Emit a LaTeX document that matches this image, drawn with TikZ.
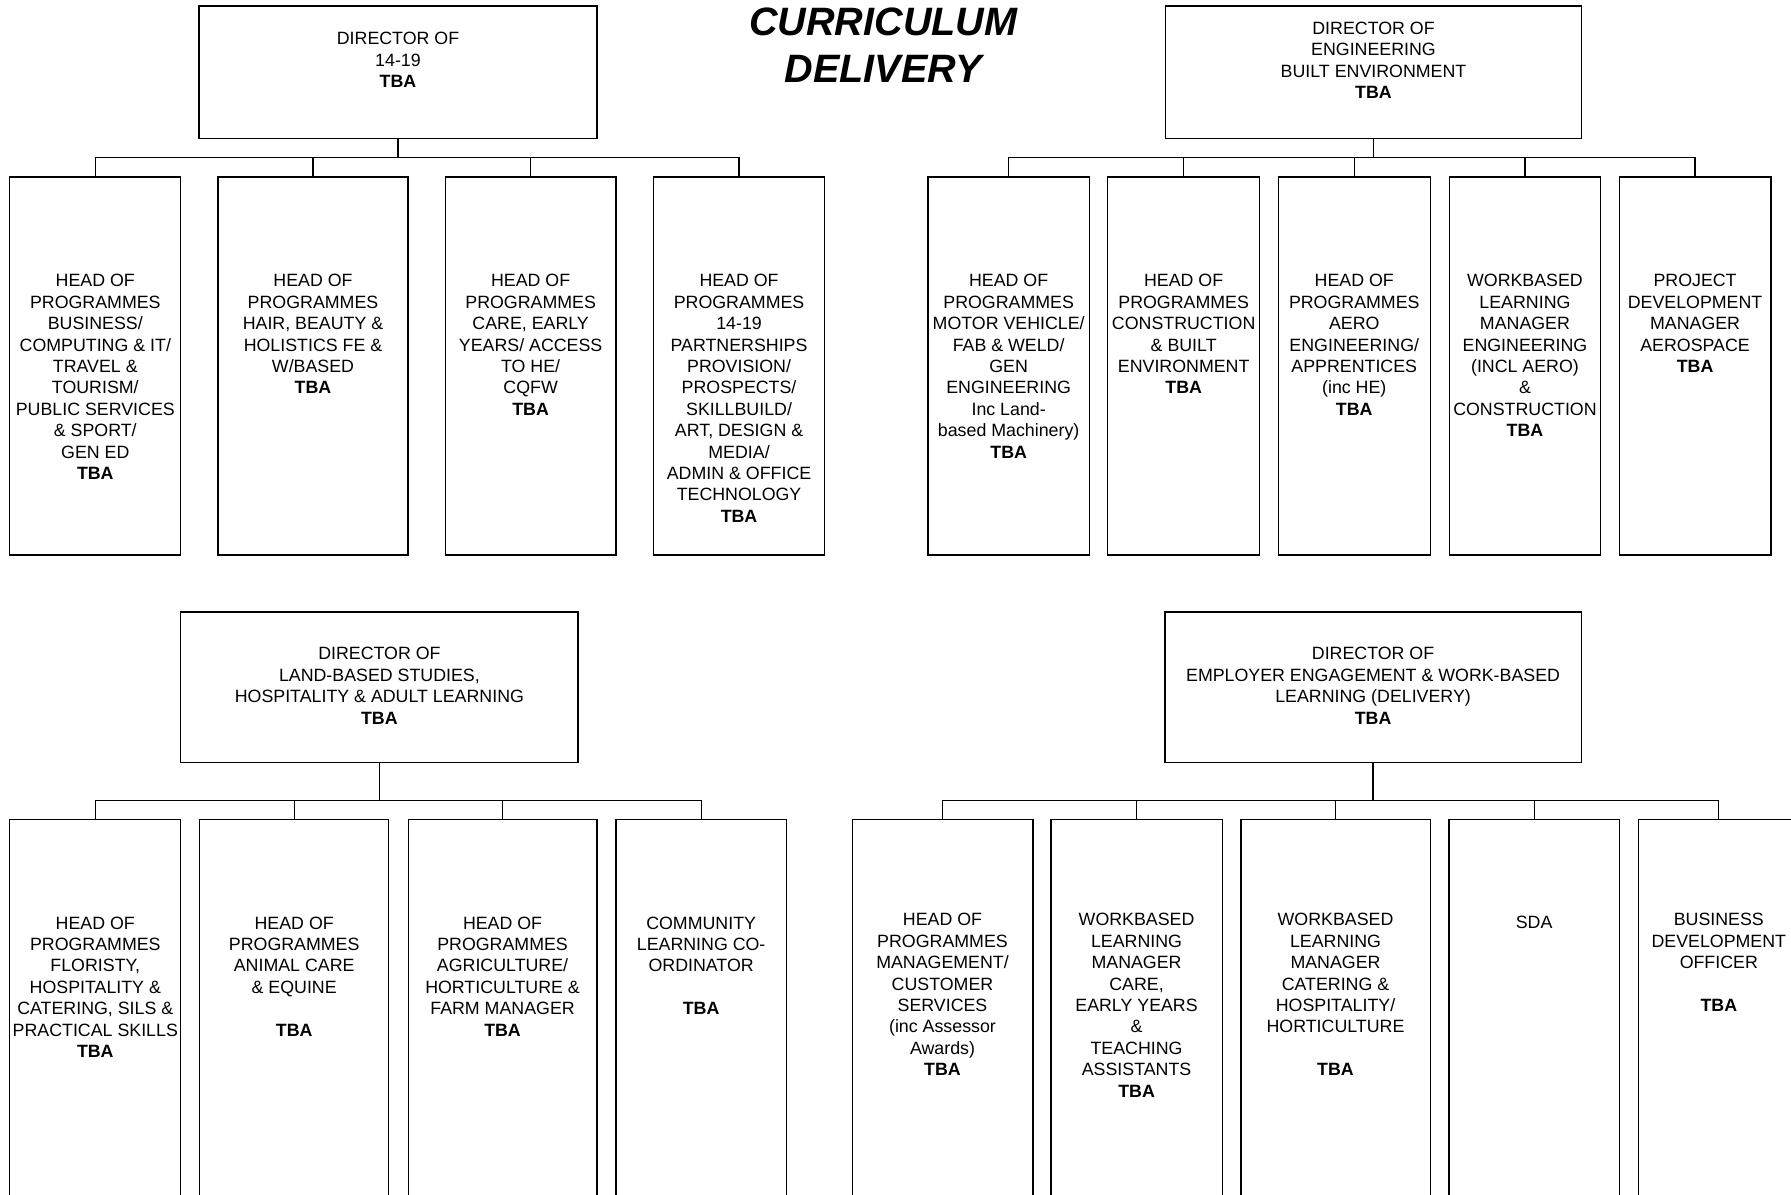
\documentclass[tikz,border=0pt]{standalone}
\usepackage{fontspec}
\setmainfont{Liberation Sans}
\begin{document}
\tikzset{
 boxst/.style={draw=black, line width=0.6pt, inner sep=0pt, outer sep=0pt},
 txt/.style={anchor=north, inner sep=0pt, align=center, font=\fontsize{8.9}{10.7}\selectfont},
 link/.style={draw=black, line width=0.6pt},
 titlest/.style={anchor=north, inner sep=0pt, align=center, font=\fontsize{19.8}{23.25}\selectfont\bfseries\itshape},
}
\newcommand\orgbox[7]{%
 \node[boxst, minimum width={(#3-#2)*0.5pt}, minimum height={(#5-#4)*0.5pt}] (#1) at ({(#2+#3)/2},{(#4+#5)/2}) {};
 \node[txt] (#1t) at ({(#2+#3)/2},#6) {#7};
}
\newcommand\orglink[3]{\draw[link] (#1.south) -- (#1.south |- #2) -| (#3.north);}
\begin{tikzpicture}[x=0.5pt,y=-0.5pt]
\useasboundingbox (0,0) rectangle (1791,1194);
\clip (0,0) rectangle (1791,1194);

\node[titlest] (title) at (883.3,7.5) {CURRICULUM\\DELIVERY};

% group A
\orgbox{A}{199}{597}{6}{138.6}{32}{DIRECTOR OF\\14-19\\\textbf{TBA}}
\orgbox{a1}{9.8}{180.8}{177}{555}{274}{HEAD OF\\PROGRAMMES\\BUSINESS/\\COMPUTING \& IT/\\TRAVEL \&\\TOURISM/\\PUBLIC SERVICES\\\& SPORT/\\GEN ED\\\textbf{TBA}}
\orgbox{a2}{218}{408}{177}{555}{274}{HEAD OF\\PROGRAMMES\\HAIR, BEAUTY \&\\HOLISTICS FE \&\\W/BASED\\\textbf{TBA}}
\orgbox{a3}{445.4}{615.9}{177}{555}{274}{HEAD OF\\PROGRAMMES\\CARE, EARLY\\YEARS/ ACCESS\\TO HE/\\CQFW\\\textbf{TBA}}
\orgbox{a4}{653.8}{824.3}{177}{555}{274}{HEAD OF\\PROGRAMMES\\14-19\\PARTNERSHIPS\\PROVISION/\\PROSPECTS/\\SKILLBUILD/\\ART, DESIGN \&\\MEDIA/\\ADMIN \& OFFICE\\TECHNOLOGY\\\textbf{TBA}}
\coordinate (busA) at (0,157.4);
\foreach \c in {a1,a2,a3,a4} {\orglink{A}{busA}{\c}}

% group B
\orgbox{B}{1165.2}{1581.8}{6}{138.6}{21.5}{DIRECTOR OF\\ENGINEERING\\BUILT ENVIRONMENT\\\textbf{TBA}}
\orgbox{b1}{927.9}{1089.4}{177}{555}{274}{HEAD OF\\PROGRAMMES\\MOTOR VEHICLE/\\FAB \& WELD/\\GEN\\ENGINEERING\\Inc Land-\\based Machinery)\\\textbf{TBA}}
\orgbox{b2}{1107.8}{1259.5}{177}{555}{274}{HEAD OF\\PROGRAMMES\\CONSTRUCTION\\\& BUILT\\ENVIRONMENT\\\textbf{TBA}}
\orgbox{b3}{1278.4}{1430.1}{177}{555}{274}{HEAD OF\\PROGRAMMES\\AERO\\ENGINEERING/\\APPRENTICES\\(inc HE)\\\textbf{TBA}}
\orgbox{b4}{1449.1}{1600.8}{177}{555}{274}{WORKBASED\\LEARNING\\MANAGER\\ENGINEERING\\(INCL AERO)\\\&\\CONSTRUCTION\\\textbf{TBA}}
\orgbox{b5}{1619.2}{1770.9}{177}{555}{274}{PROJECT\\DEVELOPMENT\\MANAGER\\AEROSPACE\\\textbf{TBA}}
\coordinate (busB) at (0,157.4);
\foreach \c in {b1,b2,b3,b4,b5} {\orglink{B}{busB}{\c}}

% group C
\orgbox{C}{180.8}{578}{612}{762.6}{647}{DIRECTOR OF\\LAND-BASED STUDIES,\\HOSPITALITY \& ADULT LEARNING\\\textbf{TBA}}
\orgbox{c1}{9.8}{180.8}{819.6}{1260}{916.2}{HEAD OF\\PROGRAMMES\\FLORISTY,\\HOSPITALITY \&\\CATERING, SILS \&\\PRACTICAL SKILLS\\\textbf{TBA}}
\orgbox{c2}{199.8}{388.6}{819.6}{1260}{916.2}{HEAD OF\\PROGRAMMES\\ANIMAL CARE\\\& EQUINE\\~\\\textbf{TBA}}
\orgbox{c3}{408.1}{597}{819.6}{1260}{916.2}{HEAD OF\\PROGRAMMES\\AGRICULTURE/\\HORTICULTURE \&\\FARM MANAGER\\\textbf{TBA}}
\orgbox{c4}{615.9}{786.4}{819.6}{1260}{916.2}{COMMUNITY\\LEARNING CO-\\ORDINATOR\\~\\\textbf{TBA}}
\coordinate (busC) at (0,800.7);
\foreach \c in {c1,c2,c3,c4} {\orglink{C}{busC}{\c}}

% group D
\orgbox{D}{1165}{1581.1}{612}{762.6}{647}{DIRECTOR OF\\EMPLOYER ENGAGEMENT \& WORK-BASED\\LEARNING (DELIVERY)\\\textbf{TBA}}
\orgbox{d1}{852.1}{1032.9}{819.6}{1260}{913}{HEAD OF\\PROGRAMMES\\MANAGEMENT/\\CUSTOMER\\SERVICES\\(inc Assessor\\Awards)\\\textbf{TBA}}
\orgbox{d2}{1051}{1222.1}{819.6}{1260}{913}{WORKBASED\\LEARNING\\MANAGER\\CARE,\\EARLY YEARS\\\&\\TEACHING\\ASSISTANTS\\\textbf{TBA}}
\orgbox{d3}{1240.9}{1430.1}{819.6}{1260}{913}{WORKBASED\\LEARNING\\MANAGER\\CATERING \&\\HOSPITALITY/\\HORTICULTURE\\~\\\textbf{TBA}}
\orgbox{d4}{1448.9}{1619.3}{819.6}{1260}{916}{SDA}
\orgbox{d5}{1638.2}{1799.4}{819.6}{1260}{913}{BUSINESS\\DEVELOPMENT\\OFFICER\\~\\\textbf{TBA}}
\coordinate (busD) at (0,800.7);
\foreach \c in {d1,d2,d3,d4,d5} {\orglink{D}{busD}{\c}}
\end{tikzpicture}
\end{document}
